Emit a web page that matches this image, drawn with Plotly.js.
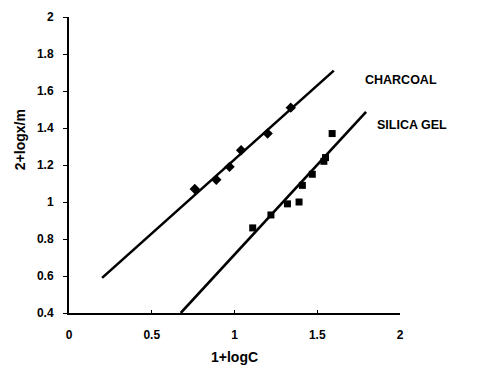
<!DOCTYPE html>
<html>
<head>
<meta charset="utf-8">
<script src="https://cdn.plot.ly/plotly-3.0.1.min.js"></script>
<style>html,body{margin:0;padding:0;background:#fff;}#chart{width:477px;height:374px;}</style>
</head>
<body>
<div id="chart"></div>
<script>
// Charcoal data points
const charcoalX = [0.76, 0.89, 0.97, 1.04, 1.2, 1.34];
const charcoalY = [1.07, 1.12, 1.19, 1.28, 1.37, 1.51];
// Silica gel data points
const silicaX = [1.11, 1.22, 1.32, 1.39, 1.41, 1.47, 1.55, 1.54, 1.59];
const silicaY = [0.86, 0.93, 0.99, 1.0, 1.09, 1.15, 1.24, 1.22, 1.37];
// Fitted lines
const charcoalFitX = [0.2, 1.6];
const charcoalFitY = [0.59, 1.71];
const silicaFitX = [0.675, 1.795];
const silicaFitY = [0.4, 1.487];
const xTicks = [0, 0.5, 1, 1.5, 2];
const yTicks = [0.4, 0.6, 0.8, 1, 1.2, 1.4, 1.6, 1.8, 2];

const font = {family: 'Liberation Sans, Arial, sans-serif', color: '#000'};

const traces = [
  {x: charcoalFitX, y: charcoalFitY, mode: 'lines', line: {color: '#000', width: 2.6}, hoverinfo: 'skip'},
  {x: silicaFitX, y: silicaFitY, mode: 'lines', line: {color: '#000', width: 2.6}, hoverinfo: 'skip'},
  {x: charcoalX, y: charcoalY, mode: 'markers', marker: {symbol: 'diamond', size: 8, color: '#000'}},
  {x: silicaX, y: silicaY, mode: 'markers', marker: {symbol: 'square', size: 7, color: '#000'}}
];

const layout = {
  width: 477, height: 374,
  margin: {l: 69, r: 77, t: 17, b: 61},
  showlegend: false,
  paper_bgcolor: '#fff', plot_bgcolor: '#fff',
  xaxis: {
    range: [0, 2], tickvals: xTicks, ticktext: xTicks.map(String),
    showgrid: false, zeroline: false, showline: true, linecolor: '#000', linewidth: 2,
    ticks: 'inside', ticklen: 3, tickcolor: '#000', ticklabelstandoff: 10,
    tickfont: Object.assign({size: 12, weight: 'bold'}, font)
  },
  yaxis: {
    range: [0.4, 2], tickvals: yTicks, ticktext: yTicks.map(String),
    showgrid: false, zeroline: false, showline: true, linecolor: '#000', linewidth: 2,
    ticks: 'outside', ticklen: 4, tickcolor: '#000', ticklabelstandoff: 7,
    tickfont: Object.assign({size: 12, weight: 'bold'}, font)
  },
  annotations: [
    {text: '<b>1+logC</b>', xref: 'paper', yref: 'paper', x: 0.5, y: -0.149, xanchor: 'center', yanchor: 'middle', showarrow: false, font: Object.assign({size: 14}, font)},
    {text: '<b>2+logx/m</b>', xref: 'paper', yref: 'paper', x: -0.148, y: 0.584, xanchor: 'center', yanchor: 'middle', textangle: -90, showarrow: false, font: Object.assign({size: 14}, font)},
    {text: '<b>CHARCOAL</b>', xref: 'paper', yref: 'paper', x: 0.888, y: 0.787, xanchor: 'left', yanchor: 'middle', showarrow: false, font: Object.assign({size: 12.5}, font)},
    {text: '<b>SILICA GEL</b>', xref: 'paper', yref: 'paper', x: 0.924, y: 0.635, xanchor: 'left', yanchor: 'middle', showarrow: false, font: Object.assign({size: 12.5}, font)}
  ]
};

Plotly.newPlot('chart', traces, layout, {displayModeBar: false, staticPlot: true});
</script>
</body>
</html>
